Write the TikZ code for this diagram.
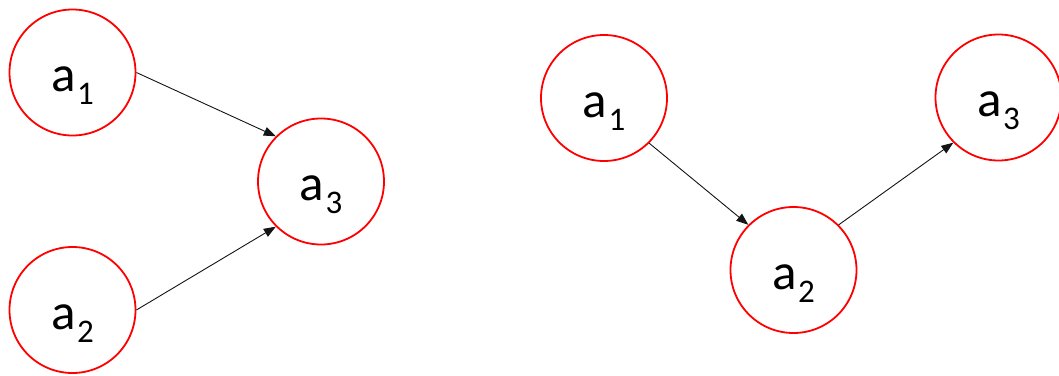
\documentclass[tikz,border=0pt]{standalone}
\usepackage{fontspec}
\setmainfont{Carlito}
\usetikzlibrary{arrows.meta}
\definecolor{ringred}{RGB}{255,0,0}
\definecolor{edgegray}{RGB}{20,20,20}
\newcommand{\varlabel}[1]{\fontsize{51}{51}\selectfont a\kern1.5pt\raisebox{-13pt}{\fontsize{33}{33}\selectfont #1}}
\tikzset{
  ring/.style={circle, draw=ringred, line width=1.8pt, minimum size=126pt, inner sep=0pt},
  varname/.style={anchor=base, inner sep=0pt},
  link/.style={draw=edgegray, line width=0.9pt, -{Triangle[length=12pt,width=9pt]}}
}
\begin{document}
\begin{tikzpicture}[x=1pt, y=-1pt]
  \useasboundingbox (0,0) rectangle (1059,375);
  % converging structure: a1 and a2 both point to a3
  \node[ring] (L1) at (72.5,72.5) {};
  \node[ring] (L2) at (72.5,310) {};
  \node[ring] (L3) at (321,181.5) {};
  \node[varname] (L1t) at ([yshift=-19pt]L1.center) {\varlabel{1}};
  \node[varname] (L2t) at ([yshift=-19pt]L2.center) {\varlabel{2}};
  \node[varname] (L3t) at ([yshift=-19pt]L3.center) {\varlabel{3}};
  \draw[link] (L1.0) -- (L3.135);
  \draw[link] (L2.0) -- (L3.225);
  % chain structure: a1 -> a2 -> a3
  \node[ring] (R1) at (604,98) {};
  \node[ring] (R2) at (793.5,270) {};
  \node[ring] (R3) at (998.5,97.5) {};
  \node[varname] (R1t) at ([yshift=-19pt]R1.center) {\varlabel{1}};
  \node[varname] (R2t) at ([yshift=-19pt]R2.center) {\varlabel{2}};
  \node[varname] (R3t) at ([yshift=-19pt]R3.center) {\varlabel{3}};
  \draw[link] (R1.-45) -- (R2.135);
  \draw[link] (R2.45) -- (R3.225);
\end{tikzpicture}
\end{document}
